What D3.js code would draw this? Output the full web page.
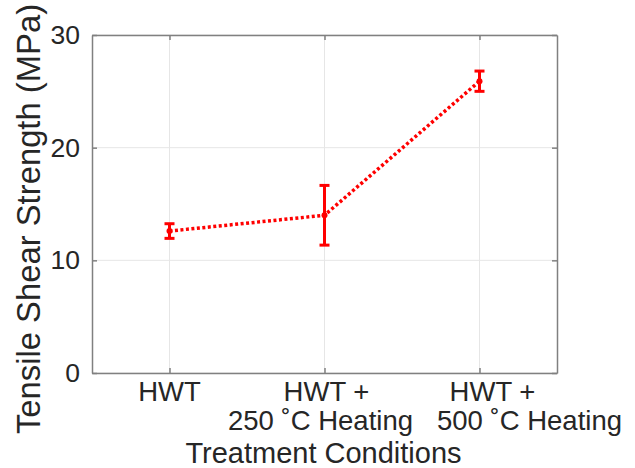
<!DOCTYPE html>
<html>
<head>
<meta charset="utf-8">
<script src="https://cdn.jsdelivr.net/npm/d3@7"></script>
<style>
  body { margin: 0; background: #fff; }
  text { font-family: 'Liberation Sans', Arial, sans-serif; fill: #262626; }
</style>
</head>
<body>
<div id="chart"></div>
<script>
const categories = [['HWT'], ['HWT +', '250 ˚C Heating'], ['HWT +', '500 ˚C Heating']]
const strength = [12.6, 14.0, 25.9]
const errLow = [0.65, 2.65, 0.9]
const errHigh = [0.65, 2.65, 0.9]
const yTicks = [0, 10, 20, 30]

// per-line horizontal nudges of the tick labels, as laid out in the original
const labelShift = [[0], [2, -4], [13, 50]]

const width = 635, height = 468
const margin = { left: 92, top: 35, right: 78, bottom: 95 }
const plotW = width - margin.left - margin.right
const plotH = height - margin.top - margin.bottom

const svg = d3.select('#chart')
    .append('svg')
    .attr('width', width)
    .attr('height', height)

const x = d3.scaleLinear().domain([0.5, 3.5]).range([0, plotW])
const y = d3.scaleLinear().domain([0, 30]).range([plotH, 0])

const g = svg.append('g')
    .attr('transform', `translate(${margin.left},${margin.top})`)

// grid
g.selectAll('.vgrid').data(categories).enter().append('line')
    .attr('x1', (d, i) => x(i + 1)).attr('x2', (d, i) => x(i + 1))
    .attr('y1', 0).attr('y2', plotH)
    .attr('stroke', '#e6e6e6').attr('stroke-width', 1)
g.selectAll('.hgrid').data(yTicks).enter().append('line')
    .attr('x1', 0).attr('x2', plotW)
    .attr('y1', d => y(d)).attr('y2', d => y(d))
    .attr('stroke', '#e6e6e6').attr('stroke-width', 1)

// axes
const xAxis = d3.axisBottom(x).tickValues([1, 2, 3]).tickSizeInner(-5).tickSizeOuter(0).tickFormat('')
const xTop = d3.axisTop(x).tickValues([1, 2, 3]).tickSizeInner(-5).tickSizeOuter(0).tickFormat('')
const yAxis = d3.axisLeft(y).tickValues(yTicks).tickSizeInner(-5).tickSizeOuter(0).tickPadding(12)
const yRight = d3.axisRight(y).tickValues(yTicks).tickSizeInner(-5).tickSizeOuter(0).tickFormat('')

function styleAxis(sel) {
    sel.select('.domain').attr('stroke', '#808080').attr('stroke-width', 1.5)
    sel.selectAll('.tick line').attr('stroke', '#808080').attr('stroke-width', 1.5)
}

g.append('g').attr('transform', `translate(0,${plotH})`).call(xAxis).call(styleAxis)
g.append('g').call(xTop).call(styleAxis)
g.append('g').attr('transform', `translate(${plotW},0)`).call(yRight).call(styleAxis)
const ya = g.append('g').call(yAxis).call(styleAxis)
ya.selectAll('.tick text')
    .style('font-size', '26.5px')
    .style('font-family', "'Liberation Sans', Arial, sans-serif")
    .attr('fill', '#262626')

// x tick labels (two lines)
const xl = g.selectAll('.xlab').data(categories).enter().append('text')
    .attr('text-anchor', 'middle')
    .attr('y', plotH + 28)
    .style('font-size', '27.5px')
xl.each(function (d, i) {
    d3.select(this).selectAll('tspan').data(d).enter().append('tspan')
        .attr('x', (t, j) => x(i + 1) + labelShift[i][j])
        .attr('dy', (t, j) => j === 0 ? '0' : '29')
        .text(t => t)
})

// axis titles
svg.append('text')
    .attr('x', 323.5)
    .attr('y', 463)
    .attr('text-anchor', 'middle')
    .style('font-size', '29px')
    .text('Treatment Conditions')

svg.append('text')
    .attr('transform', `translate(40,219) rotate(-90)`)
    .attr('text-anchor', 'middle')
    .style('font-size', '32.8px')
    .text('Tensile Shear Strength (MPa)')

// data line
const line = d3.line().x((d, i) => x(i + 1)).y(d => y(d))
g.append('path')
    .datum(strength)
    .attr('d', line)
    .attr('fill', 'none')
    .attr('stroke', '#ff0000')
    .attr('stroke-width', 3.5)
    .attr('stroke-dasharray', '3,2.5')

// error bars
const capW = 5
strength.forEach((v, i) => {
    const cx = x(i + 1)
    const top = y(v + errHigh[i]), bot = y(v - errLow[i])
    g.append('line').attr('x1', cx).attr('x2', cx).attr('y1', top).attr('y2', bot)
        .attr('stroke', '#ff0000').attr('stroke-width', 3)
    g.append('line').attr('x1', cx - capW).attr('x2', cx + capW).attr('y1', top).attr('y2', top)
        .attr('stroke', '#ff0000').attr('stroke-width', 3)
    g.append('line').attr('x1', cx - capW).attr('x2', cx + capW).attr('y1', bot).attr('y2', bot)
        .attr('stroke', '#ff0000').attr('stroke-width', 3)
})

g.selectAll('.pt').data(strength).enter().append('circle')
    .attr('cx', (d, i) => x(i + 1))
    .attr('cy', d => y(d))
    .attr('r', 3)
    .attr('fill', '#ff0000')
</script>
</body>
</html>
